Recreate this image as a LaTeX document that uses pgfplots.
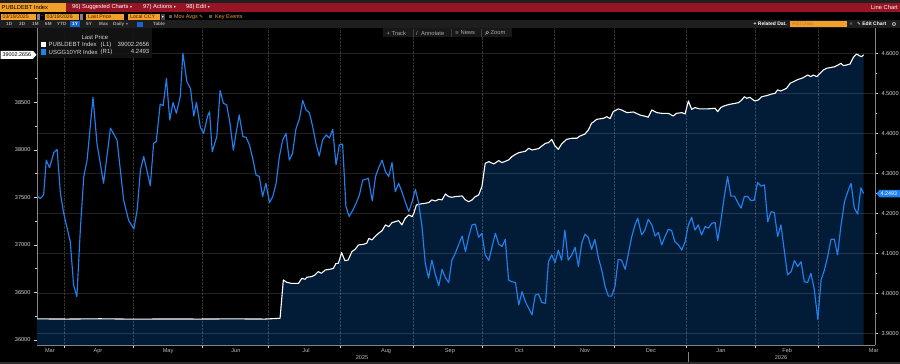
\documentclass[border=0pt]{standalone}
\usepackage{fontspec}
\setmainfont{Liberation Sans}
\newfontfamily\sym{DejaVu Sans}
\usepackage{pgfplots}
\pgfplotsset{compat=1.18}
\usepackage{pgfplotstable}

\definecolor{bbred}{RGB}{150,20,35}
\definecolor{bborange}{RGB}{242,160,40}
\definecolor{navy}{RGB}{2,28,56}
\definecolor{bblue}{RGB}{32,128,238}
\definecolor{tickgray}{RGB}{215,215,215}
\definecolor{monthgray}{RGB}{185,185,185}
\definecolor{axgray}{RGB}{130,130,130}
\definecolor{band}{RGB}{30,30,30}
\definecolor{dimtext}{RGB}{170,170,170}
\definecolor{boxtext}{RGB}{70,25,0}
\definecolor{strip}{RGB}{45,45,45}
\definecolor{topstrip}{RGB}{32,32,32}
\definecolor{legbg}{RGB}{20,20,20}
\definecolor{ddgray}{RGB}{70,70,70}
\definecolor{sqgray}{RGB}{90,90,90}
\definecolor{selblue}{RGB}{20,100,210}
\definecolor{adddata}{RGB}{200,120,40}
\definecolor{btnbg}{RGB}{24,24,24}
\definecolor{btnsep}{RGB}{60,60,60}

\pgfplotstableread{
day debt
0.8 36222
10 36220
20 36223
30 36219
40 36221
50 36220
60 36222
70 36220
74.6 36228
75.6 36632
76.6 36607
78.1 36596
80.2 36596
81.2 36649
82.2 36639
82.7 36660
84.2 36667
85.2 36684
86.2 36719
87.2 36702
88.3 36737
89.8 36744
90.8 36754
91.6 36807
92.3 36807
93.3 36919
94.3 36835
95.3 36842
96.4 36930
97.4 36954
98.4 37000
99.9 37007
100.9 37018
101.6 37070
102.5 37053
103.5 37090
104.5 37123
105.6 37151
106.6 37211
107.6 37193
108.6 37235
109.6 37246
110.6 37256
111.6 37211
112.6 37281
113.7 37316
114.7 37298
115.2 37333
116.0 37421
117.2 37432
118.7 37439
119.7 37446
120.7 37474
121.8 37463
122.8 37481
123.8 37474
124.8 37537
125.8 37509
126.8 37502
127.8 37509
129.9 37516
130.9 37474
131.9 37456
132.9 37474
133.9 37509
134.9 37526
135.9 37614
136.9 37860
138.0 37877
139.5 37853
141.0 37888
142.0 37867
143.0 37881
144.0 37895
145.0 37930
146.1 37954
147.1 37972
148.1 37979
149.1 37986
150.1 38018
151.1 38000
153.1 38014
154.1 38042
155.2 38070
156.1 38077
157.1 38112
158.1 38042
159.1 38007
160.1 38063
161.6 38112
163.2 38123
164.7 38123
165.7 38147
167.2 38168
168.2 38210
169.2 38281
170.8 38323
172.8 38333
173.8 38351
174.8 38330
175.8 38404
177.3 38432
178.3 38421
179.9 38393
181.9 38400
183.9 38368
185.9 38351
186.4 38344
187.5 38421
189.0 38393
190.5 38386
192.5 38386
194.0 38358
195.0 38386
196.6 38393
197.6 38379
198.6 38516
199.6 38428
200.6 38446
202.1 38432
204.2 38432
206.7 38439
207.5 38404
208.5 38449
209.7 38467
211.2 38481
212.8 38491
213.8 38498
214.8 38526
215.6 38561
216.3 38544
217.3 38554
218.3 38526
218.8 38516
219.8 38526
220.9 38561
222.4 38572
223.9 38589
224.9 38596
225.7 38632
226.7 38621
228.4 38649
229.5 38702
230.5 38719
232.0 38744
233.0 38754
234.0 38772
234.8 38789
235.8 38772
236.5 38789
237.6 38772
238.6 38807
239.6 38842
240.6 38860
242.1 38870
243.1 38877
244.1 38895
244.9 38912
245.7 38888
246.7 38895
247.7 38905
248.7 38975
249.7 39010
250.7 38989
251.2 38982
251.8 39002.2656
}\debt

\pgfplotstableread{
day yld
0.8 4.243
1.8 4.237
2.8 4.246
3.6 4.333
4.6 4.314
5.9 4.352
6.9 4.360
7.9 4.250
8.9 4.200
10.9 4.129
11.9 4.021
12.9 3.992
14.0 4.167
15.0 4.292
16.0 4.333
17.8 4.490
19.0 4.375
21.0 4.275
23.1 4.413
25.1 4.383
27.1 4.233
28.6 4.183
30.2 4.161
31.2 4.208
32.2 4.308
33.2 4.342
35.2 4.269
36.2 4.375
37.0 4.379
38.2 4.473
39.1 4.469
40.1 4.537
41.1 4.433
42.1 4.477
43.1 4.450
44.3 4.492
45.1 4.600
46.3 4.529
47.4 4.512
48.4 4.443
49.2 4.477
50.4 4.415
51.4 4.400
52.6 4.443
53.2 4.454
54.0 4.354
55.4 4.392
56.4 4.507
57.4 4.475
58.4 4.471
59.4 4.425
60.4 4.358
61.4 4.408
62.2 4.446
63.3 4.392
64.3 4.390
65.3 4.371
66.3 4.337
67.3 4.296
68.3 4.292
69.3 4.242
70.3 4.275
71.4 4.227
72.4 4.242
73.4 4.275
74.4 4.342
75.4 4.383
76.4 4.400
77.4 4.333
78.4 4.350
79.4 4.410
80.5 4.437
81.5 4.482
82.5 4.458
83.5 4.452
84.5 4.417
85.5 4.375
86.5 4.343
87.5 4.383
88.6 4.396
89.6 4.388
90.6 4.410
91.6 4.321
92.6 4.371
93.6 4.373
94.6 4.217
95.6 4.192
96.7 4.208
97.7 4.225
98.7 4.246
99.7 4.283
100.7 4.285
101.4 4.288
102.6 4.231
103.6 4.292
104.6 4.315
105.6 4.333
106.6 4.304
107.6 4.292
108.6 4.327
109.6 4.254
110.6 4.275
111.6 4.254
112.6 4.229
113.7 4.204
114.7 4.229
115.7 4.260
116.7 4.225
117.7 4.167
118.7 4.075
119.7 4.038
120.7 4.083
121.8 4.046
122.8 4.019
123.8 4.060
124.8 4.039
125.8 4.027
126.8 4.083
127.8 4.100
128.8 4.121
129.9 4.143
130.9 4.104
131.9 4.142
132.9 4.171
133.9 4.173
134.9 4.140
135.9 4.150
136.9 4.096
138.0 4.082
139.0 4.117
140.0 4.150
141.0 4.123
142.0 4.117
143.0 4.135
144.0 4.033
145.0 4.029
146.1 4.027
147.1 3.971
148.1 4.004
149.1 3.979
150.1 3.963
151.1 3.946
152.1 3.996
153.1 3.998
154.1 3.977
155.2 3.975
156.1 4.079
157.1 4.096
158.1 4.077
159.1 4.108
160.1 4.083
161.1 4.158
162.1 4.083
163.2 4.096
164.2 4.115
165.2 4.067
166.2 4.125
167.2 4.148
168.2 4.140
169.2 4.110
170.2 4.135
171.3 4.088
172.3 4.058
173.3 4.017
174.3 3.993
175.3 3.993
176.3 4.017
177.3 4.085
178.3 4.083
179.4 4.060
180.4 4.100
181.4 4.142
182.4 4.171
183.2 4.188
184.4 4.146
185.4 4.158
186.4 4.185
187.5 4.171
188.5 4.143
189.5 4.152
190.5 4.121
191.5 4.142
192.5 4.160
193.5 4.157
194.5 4.129
195.6 4.121
196.6 4.108
197.6 4.129
198.6 4.171
199.6 4.190
200.6 4.158
201.6 4.171
202.6 4.146
203.7 4.167
204.7 4.163
205.7 4.175
206.7 4.177
207.5 4.132
208.5 4.183
209.5 4.242
210.5 4.292
211.5 4.243
212.6 4.243
213.6 4.227
214.6 4.213
215.6 4.242
216.6 4.242
217.6 4.232
218.6 4.233
219.6 4.277
220.7 4.268
221.7 4.271
222.7 4.179
223.7 4.204
224.7 4.202
225.7 4.142
226.7 4.171
227.7 4.108
228.7 4.046
229.8 4.054
230.8 4.082
231.8 4.067
232.8 4.079
233.8 4.029
234.8 4.027
235.8 4.050
236.8 4.012
237.9 3.935
238.9 4.033
239.9 4.058
240.9 4.092
241.9 4.135
242.9 4.135
243.9 4.096
244.9 4.167
246.0 4.229
247.0 4.254
248.0 4.275
249.0 4.213
250.0 4.198
251.0 4.264
251.8 4.2493
}\yld

\tikzset{tb/.style={font=\fontsize{5.8}{6.5}\selectfont, inner sep=0pt, anchor=west},
  bx/.style={font=\fontsize{5.2}{6}\selectfont, inner sep=0pt, anchor=west, text=boxtext}}

\begin{document}
\begin{tikzpicture}[x=1pt,y=1pt]
\useasboundingbox (0,0) rectangle (900,364);
\fill[black] (0,0) rectangle (900,364);
% bottom strip
\fill[strip] (0,0) rectangle (900,2.3);

\begin{axis}[
  at={(37pt,19pt)}, anchor=south west,
  width=838pt, height=317pt, scale only axis,
  xmin=0.79, xmax=255.27,
  ymin=35947, ymax=39284,
  scaled y ticks=false,
  axis y line*=left, axis x line*=bottom,
  axis line style={draw=axgray, line width=0.6pt},
  xtick={9,30,51,71,93,115,136,158,176,198,219,238},
  xticklabels={},
  extra x ticks={4.7,19.3,40.6,61.2,82.5,106.8,126.2,147.2,167.2,187.2,208.5,228.6,254.9},
  extra x tick labels={Mar,Apr,May,Jun,Jul,Aug,Sep,Oct,Nov,Dec,Jan,Feb,Mar},
  extra x tick style={major tick length=0pt, xticklabel style={text=monthgray}},
  ytick={36000,36500,37000,37500,38000,38500},
  minor ytick={36250,36750,37250,37750,38250,38750},
  tick align=outside,
  major tick length=3pt, minor tick length=2pt,
  tick style={draw=tickgray, line width=0.6pt},
  ticklabel style={font=\fontsize{5.6}{6}\selectfont, text=tickgray},
  /pgf/number format/assume math mode=true,
  yticklabel style={/pgf/number format/.cd, fixed, precision=0, 1000 sep={}},
]
\addplot[draw=none, fill=navy] table[x=day, y=debt]{\debt} \closedcycle;
\addplot[white, line width=1.1pt, line join=round] table[x=day, y=debt]{\debt};
\end{axis}

\begin{axis}[
  at={(37pt,19pt)}, anchor=south west,
  width=838pt, height=317pt, scale only axis,
  xmin=0.79, xmax=255.27,
  ymin=3.8708, ymax=4.6633,
  scaled y ticks=false,
  axis y line*=right, axis x line*=bottom,
  x axis line style={draw=none},
  y axis line style={draw=axgray, line width=0.6pt},
  xtick={9,30,51,71,93,115,136,158,176,198,219,238},
  xticklabels={},
  xtick style={draw=none},
  xmajorgrids, ymajorgrids,
  major x grid style={white, opacity=0.2, densely dotted, line width=0.5pt},
  major y grid style={white, opacity=0.13, line width=0.5pt},
  ytick={3.9,4.0,4.1,4.2,4.3,4.4,4.5,4.6},
  minor ytick={3.95,4.05,4.15,4.25,4.35,4.45,4.55},
  tick align=outside,
  major tick length=3pt, minor tick length=2pt,
  ytick style={draw=tickgray, line width=0.6pt},
  ticklabel style={font=\fontsize{5.6}{6}\selectfont, text=tickgray},
  /pgf/number format/assume math mode=true,
  yticklabel style={/pgf/number format/.cd, fixed, fixed zerofill, precision=4},
]
\addplot[bblue, line width=1.15pt, line join=round] table[x=day, y=yld]{\yld};
\end{axis}

% year labels and separator
\node[font=\fontsize{5.6}{6}\selectfont, text=monthgray] at (362,6.3) {2025};
\node[font=\fontsize{5.6}{6}\selectfont, text=monthgray] at (781,6.3) {2026};
\draw[axgray, line width=0.5pt] (688,2.3) -- (688,11.5);

% value flags
\fill[white] (0.5,305.2) -- (33,305.2) -- (36.5,309.2) -- (33,313.2) -- (0.5,313.2) -- cycle;
\node[font=\fontsize{5.4}{6}\selectfont, text=black, inner sep=0pt] at (16.8,309.2) {39002.2656};
\fill[bblue] (876.5,170.4) -- (879.5,174.2) -- (900,174.2) -- (900,166.6) -- (879.5,166.6) -- cycle;
\node[font=\fontsize{5.4}{6}\selectfont, text=white, inner sep=0pt, anchor=west] at (880.5,170.4) {4.2493};

% legend
\fill[legbg, opacity=0.9] (37.6,306) rectangle (152,335.5);
\node[font=\fontsize{6}{7}\selectfont, text=tickgray, inner sep=0pt] at (95,326.3) {Last Price};
\fill[white] (40.5,316.7) rectangle (46,322.1);
\node[tb, font=\fontsize{6}{7}\selectfont, text=tickgray] at (48.5,319.4) {PUBLDEBT Index};
\node[tb, font=\fontsize{6}{7}\selectfont, text=tickgray] at (100.5,319.4) {(L1)};
\node[tb, font=\fontsize{6}{7}\selectfont, text=tickgray, anchor=east] at (149.5,319.4) {39002.2656};
\fill[bblue] (40.5,309.4) rectangle (46,314.8);
\node[tb, font=\fontsize{6}{7}\selectfont, text=tickgray] at (48.5,312.1) {USGG10YR Index};
\node[tb, font=\fontsize{6}{7}\selectfont, text=tickgray] at (100.5,312.1) {(R1)};
\node[tb, font=\fontsize{6}{7}\selectfont, text=tickgray, anchor=east] at (149.5,312.1) {4.2493};

% ---- toolbars ----
% row 1
\fill[topstrip] (0,360.7) rectangle (900,364);
\fill[bbred] (0,352.3) rectangle (900,360.7);
\fill[bborange] (0,352.3) rectangle (66,360.7);
\node[tb, text=black] at (1.5,356.5) {PUBLDEBT Index};
\node[tb, text=white] at (72,356.5) {96) Suggested Charts {\sym\fontsize{4}{5}\selectfont ▾}};
\node[tb, text=white] at (143,356.5) {97) Actions {\sym\fontsize{4}{5}\selectfont ▾}};
\node[tb, text=white] at (186,356.5) {98) Edit {\sym\fontsize{4}{5}\selectfont ▾}};
\node[tb, text=white, anchor=east] at (898,356.5) {Line Chart};
% row 2
\fill[bborange] (1,343.6) rectangle (36,350.3);
\node[bx] at (2.5,347) {03/19/2025};
\fill[axgray] (36.6,344.2) rectangle (39.6,349.7);
\node[tb, text=bborange] at (41,347) {-};
\fill[bborange] (45,343.6) rectangle (79,350.3);
\node[bx] at (46.5,347) {03/19/2026};
\fill[axgray] (79.6,344.2) rectangle (82.6,349.7);
\fill[bborange] (86,343.6) rectangle (124,350.3);
\node[bx] at (88,347) {Last Price};
\fill[bborange] (128,343.6) rectangle (160,350.3);
\node[bx] at (130,347) {Local CCY};
\fill[ddgray] (160.8,343.6) rectangle (165,350.3);
\node[text=white, inner sep=0pt, font=\sym\fontsize{4}{5}\selectfont] at (162.9,347) {▾};
\fill[sqgray] (168.5,345.5) rectangle (171.5,348.5);
\node[tb, font=\fontsize{5.4}{6}\selectfont, text=bborange] at (174,347) {Mov Avgs {\sym\fontsize{4.5}{5}\selectfont ✎}};
\fill[sqgray] (209,345.5) rectangle (212,348.5);
\node[tb, font=\fontsize{5.4}{6}\selectfont, text=bborange] at (215,347) {Key Events};
% row 3
\fill[band] (0,336) rectangle (900,343.6);
\foreach \x/\t in {6/1D,19/3D,32/1M,45/6M,57/YTD,86/5Y,99/Max,113/Daily,153/Table}
  \node[tb, font=\fontsize{4.6}{5}\selectfont\bfseries, text=dimtext] at (\x,339.8) {\t};
\node[text=dimtext, inner sep=0pt, font=\sym\fontsize{3.8}{4}\selectfont] at (127,339.8) {▾};
\fill[selblue] (70,336.6) rectangle (80,343);
\node[tb, font=\fontsize{4.6}{5}\selectfont\bfseries, text=white] at (72,339.8) {1Y};
\fill[selblue] (136.5,337.2) rectangle (143,342.4);
\node[tb, font=\fontsize{5}{6}\selectfont\bfseries, text=white, anchor=east] at (787,339.8) {+ Related Dat.};
\fill[bborange] (790,336.7) rectangle (847,343);
\node[tb, font=\fontsize{5}{6}\selectfont, text=adddata] at (792,339.8) {Add Data};
\node[tb, font=\fontsize{5.5}{6}\selectfont, text=dimtext] at (849.5,339.8) {«};
\node[tb, font=\fontsize{5}{6}\selectfont\bfseries, text=white] at (857,339.8) {{\sym\fontsize{4.5}{5}\selectfont ✎} Edit Chart};
\node[tb, font=\sym\fontsize{5.5}{6}\selectfont, text=white] at (891.5,339.8) {⚙};
% row 4
\fill[btnbg] (383,326.5) rectangle (512,335.6);
\draw[btnsep, line width=0.4pt] (413.5,327) -- (413.5,335) (451.5,327) -- (451.5,335) (481.5,327) -- (481.5,335);
\node[tb, font=\fontsize{5.8}{6.5}\selectfont, text=dimtext] at (386.5,331) {+\ Track};
\node[tb, font=\fontsize{5.8}{6.5}\selectfont, text=dimtext] at (416,331) {/\ \ Annotate};
\node[tb, font=\fontsize{5.8}{6.5}\selectfont, text=dimtext] at (455,331) {{\sym\fontsize{4.5}{5}\selectfont ≡}\ News};
\draw[dimtext, line width=0.4pt] (487.3,331.6) circle (1.4pt) (486.3,330.6) -- (485,329.3);
\node[tb, font=\fontsize{5.8}{6.5}\selectfont, text=dimtext] at (490.5,331) {Zoom};
\end{tikzpicture}
\end{document}
